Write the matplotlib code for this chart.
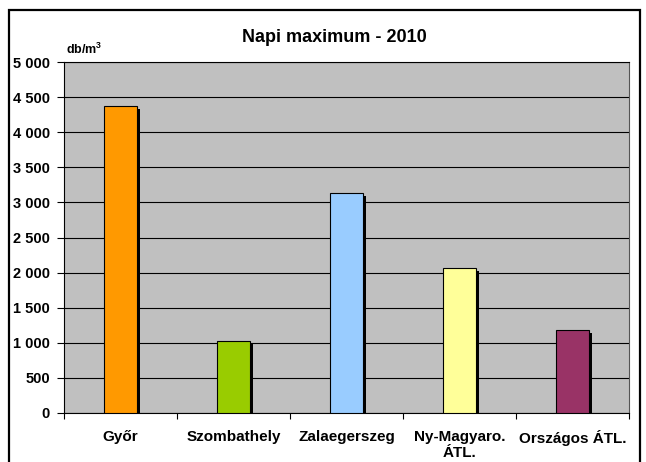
import matplotlib
matplotlib.use("Agg")
import matplotlib.pyplot as plt
import matplotlib.transforms as mtransforms
from matplotlib.patches import Rectangle

plt.rcParams['font.family'] = ['Liberation Sans', 'DejaVu Sans']
plt.rcParams['mathtext.fontset'] = 'custom'
plt.rcParams['mathtext.rm'] = 'Liberation Sans'
plt.rcParams['mathtext.bf'] = 'Liberation Sans:bold'

# Data
cities = ['Győr', 'Szombathely', 'Zalaegerszeg', 'Ny-Magyaro.\nÁTL.', 'Országos ÁTL.']
values = [4370, 1020, 3130, 2060, 1180]
colors = ['#FF9900', '#99CC00', '#99CCFF', '#FFFF99', '#993366']
y_ticks = [0, 500, 1000, 1500, 2000, 2500, 3000, 3500, 4000, 4500, 5000]

fig = plt.figure(figsize=(6.46, 4.62), dpi=100)
ax = fig.add_axes([64 / 646, 49 / 462, 565 / 646, 351 / 462])
ax.set_facecolor('#C0C0C0')

x = list(range(len(cities)))

# drop shadow: same bars shifted 3px right / 3px down
shadow = ax.transData + mtransforms.ScaledTranslation(0.03, -0.03, fig.dpi_scale_trans)
ax.bar(x, values, width=0.29, color='black', transform=shadow, zorder=2)
ax.bar(x, values, width=0.29, color=colors, edgecolor='black', linewidth=0.8, zorder=3)

ax.set_xlim(-0.5, len(cities) - 0.5)
ax.set_ylim(0, 5000)

ax.set_yticks(y_ticks)
ax.set_yticklabels([f"{v:,}".replace(',', ' ') for v in y_ticks],
                   fontsize=10.5, fontweight='bold')
ax.yaxis.grid(True, color='black', linewidth=0.8, zorder=1)
ax.set_axisbelow(True)
ax.tick_params(axis='y', length=5, width=0.8, pad=5)

# category boundaries get the ticks, labels sit in the middle
ax.set_xticks([i - 0.5 for i in range(len(cities) + 1)])
ax.set_xticklabels([])
ax.set_xticks(x, minor=True)
ax.set_xticklabels(cities, minor=True, fontsize=11, fontweight='bold')
ax.tick_params(axis='x', which='major', length=4, width=0.8)
ax.tick_params(axis='x', which='minor', length=0, pad=12)

for side in ['top', 'bottom', 'left']:
    ax.spines[side].set_color('black')
    ax.spines[side].set_linewidth(0.8)
ax.spines['right'].set_color('#555555')
ax.spines['right'].set_linewidth(0.8)

fig.text(334 / 646, 1 - 37 / 462, 'Napi maximum - 2010', ha='center', va='center',
         fontsize=13, fontweight='bold')
fig.text(66 / 646, 1 - 49 / 462, r'$\mathbf{db/m^3}$', ha='left', va='center',
         fontsize=9)

# outer frame
fig.patches.append(Rectangle((9 / 646, -0.05), 631 / 646, 1.05 - 10 / 462,
                             transform=fig.transFigure, fill=False,
                             edgecolor='black', linewidth=1.6))

fig.savefig('out.png', dpi=100)
